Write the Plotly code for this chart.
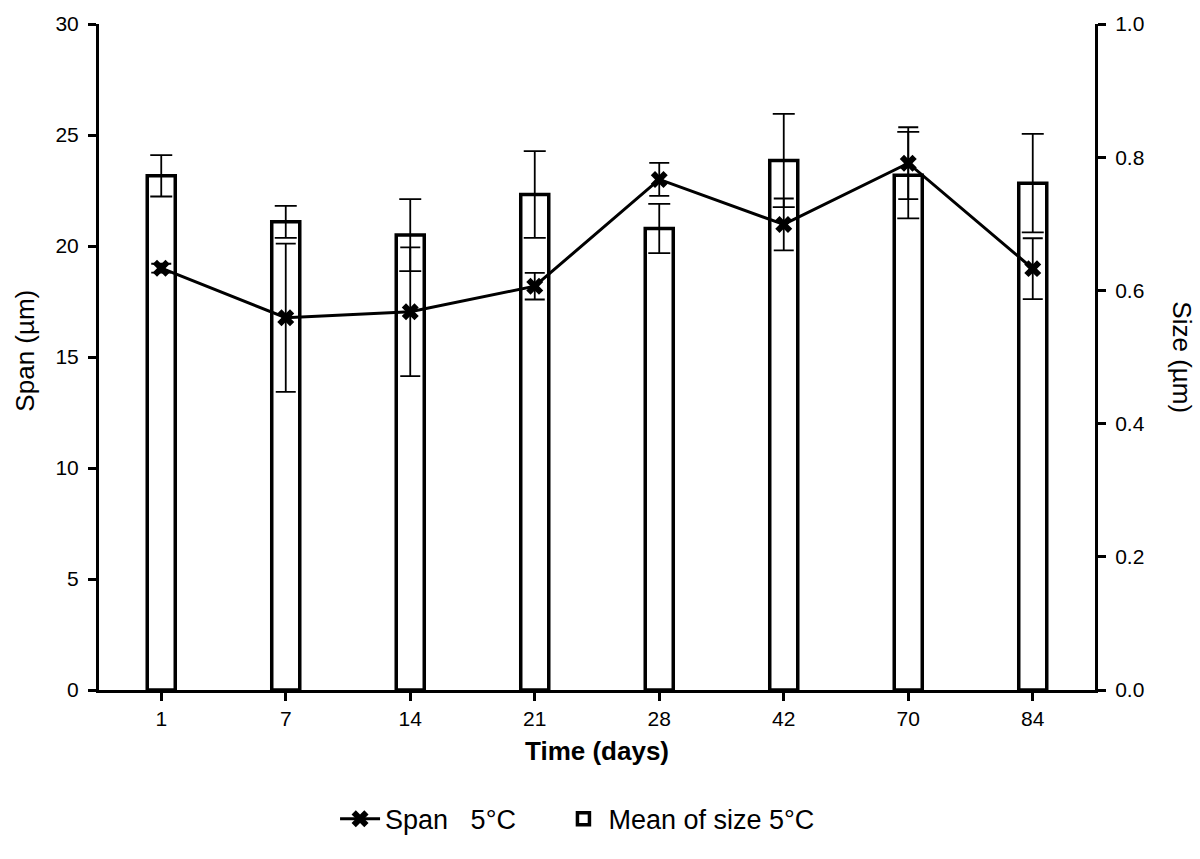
import plotly.graph_objects as go

days = ["1", "7", "14", "21", "28", "42", "70", "84"]
size_mean = [0.772, 0.703, 0.683, 0.744, 0.693, 0.795, 0.773, 0.761]
size_err = [0.031, 0.024, 0.054, 0.065, 0.037, 0.070, 0.065, 0.074]
span_mean = [19.0, 16.77, 17.04, 18.19, 23.0, 20.97, 23.73, 18.98]
span_err = [0.2, 3.34, 2.90, 0.60, 0.74, 1.17, 1.62, 1.37]

FONT = "Liberation Sans, Arial, sans-serif"

fig = go.Figure()
fig.add_trace(go.Bar(
    x=days, y=size_mean, name="Mean of size 5°C", yaxis="y",
    width=0.225,
    marker=dict(color="white", line=dict(color="black", width=3.5)),
    error_y=dict(type="data", array=size_err, color="black", thickness=1.8, width=11),
))
fig.add_trace(go.Scatter(
    x=days, y=span_mean, name="Span\u00a0\u00a0\u00a05°C" + "\u00a0" * 5, yaxis="y2",
    mode="lines+markers",
    line=dict(color="black", width=3),
    marker=dict(symbol="x", size=15, color="black"),
    error_y=dict(type="data", array=span_err, color="black", thickness=1.8, width=10),
))

axis_common = dict(
    showline=True, linecolor="black", linewidth=3,
    ticks="outside", ticklen=8, tickwidth=2.5, tickcolor="black",
    showgrid=False, zeroline=False, automargin=False,
    tickfont=dict(size=21),
)

fig.update_layout(
    width=1200, height=859,
    margin=dict(l=99, r=105, t=24, b=169, autoexpand=False),
    plot_bgcolor="white", paper_bgcolor="white",
    font=dict(family=FONT, size=21, color="black"),
    showlegend=True,
    legend=dict(orientation="h", x=0.237, xanchor="left", y=-0.194, yanchor="middle",
                font=dict(size=27), traceorder="reversed", itemwidth=40),
    xaxis=dict(type="category", range=[-0.5, 7.5], **axis_common),
    yaxis=dict(
        side="right", range=[0, 1.0], tickvals=[0, 0.2, 0.4, 0.6, 0.8, 1.0],
        tickformat=".1f", ticklabelstandoff=5, **axis_common,
    ),
    yaxis2=dict(
        overlaying="y", side="left", range=[0, 30], tickvals=[0, 5, 10, 15, 20, 25, 30],
        ticklabelstandoff=5, **axis_common,
    ),
    annotations=[
        dict(text="<b>Time (days)</b>", xref="paper", yref="paper", x=0.5, y=-0.092,
             showarrow=False, font=dict(size=26), xanchor="center", yanchor="middle"),
        dict(text="Span (µm)", xref="paper", yref="paper", x=-0.074, y=0.51,
             showarrow=False, textangle=-90, font=dict(size=26), xanchor="center", yanchor="middle"),
        dict(text="Size (µm)", xref="paper", yref="paper", x=1.087, y=0.50,
             showarrow=False, textangle=90, font=dict(size=26), xanchor="center", yanchor="middle"),
    ],
)

fig.write_html("out.html", config={"displayModeBar": False},
               post_script="document.body.style.margin='0';document.body.style.overflow='hidden';")
